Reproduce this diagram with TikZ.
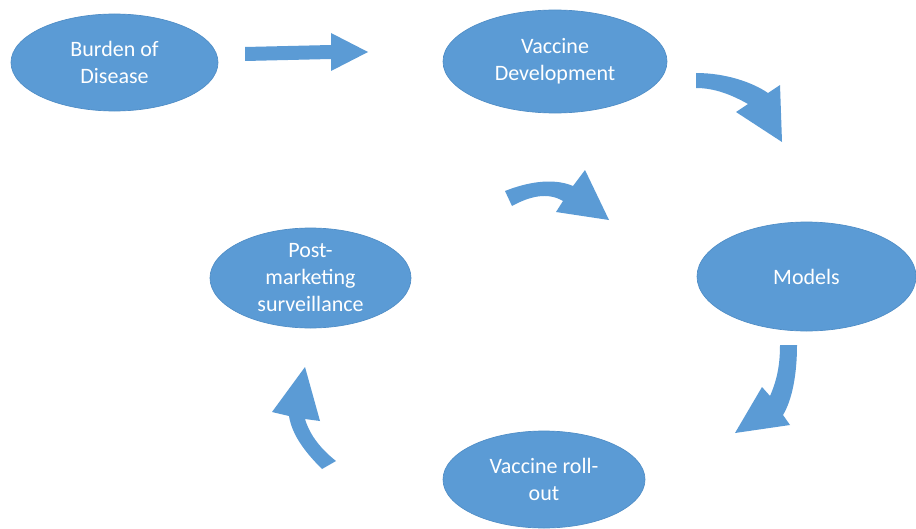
\documentclass[tikz,border=0pt]{standalone}
\usepackage{fontspec}
\setmainfont{Carlito}
\usetikzlibrary{shapes.geometric}
\definecolor{obl}{HTML}{5B9BD5}
\definecolor{obd}{HTML}{4F8DC6}
\begin{document}
\begin{tikzpicture}[x=0.75pt,y=-0.75pt,
  ell/.style 2 args={ellipse, fill=obl, draw=obd, line width=0.5pt,
    minimum width=#1*0.75pt, minimum height=#2*0.75pt, inner sep=0pt,
    text=white, align=center, font=\fontsize{16.5}{20.25}\selectfont},
  blockarrow/.style={fill=obl}]
\useasboundingbox (0,0) rectangle (916,528);
\fill[white] (0,0) rectangle (916,528);

% nodes
\node[ell={207}{97}]  (bod) at (114.5,62.5) {Burden of\\Disease};
\node[ell={224}{103}] (vd)  at (555,61.5)   {Vaccine\\Development};
\node[ell={219}{109}] (mod) at (806.5,276.5) {Models};
\node[ell={202}{97}]  (ro)  at (544,479.5)  {Vaccine roll-\\out};
\node[ell={201}{100}] (pms) at (310.5,278)  {Post-\\marketing\\surveillance};

% block arrows
% Burden -> Vaccine Development
\fill[blockarrow] (245,47) -- (331,45) -- (331,33) -- (368,52) -- (331,71) -- (331,59) -- (245,61) -- cycle;
% Vaccine Development -> Models
\fill[blockarrow] (696,73) .. controls (725,73) and (752,82) .. (768,93)
  -- (780,85) -- (782,142) -- (736,112) -- (748,104)
  .. controls (732,95) and (715,88) .. (696,88) -- cycle;
% Models -> roll-out
\fill[blockarrow] (780,345) -- (797,345) .. controls (797,375) and (792,400) .. (783,415)
  -- (790,425) -- (735,433) -- (762,387) -- (770,396)
  .. controls (777,380) and (780,365) .. (780,345) -- cycle;
% roll-out -> post-marketing
\fill[blockarrow] (322,469) .. controls (305,452) and (292,435) .. (289,416)
  -- (272,412) -- (305,367) -- (320,421) -- (305,419)
  .. controls (310,436) and (322,450) .. (336,461) -- cycle;
% post-marketing -> (cycle)
\fill[blockarrow] (505,191) .. controls (525,183) and (552,177) .. (573,186)
  -- (585,170) -- (609,220) -- (556,212) -- (563,201)
  .. controls (548,192) and (530,196) .. (512,206) -- cycle;
\end{tikzpicture}
\end{document}
